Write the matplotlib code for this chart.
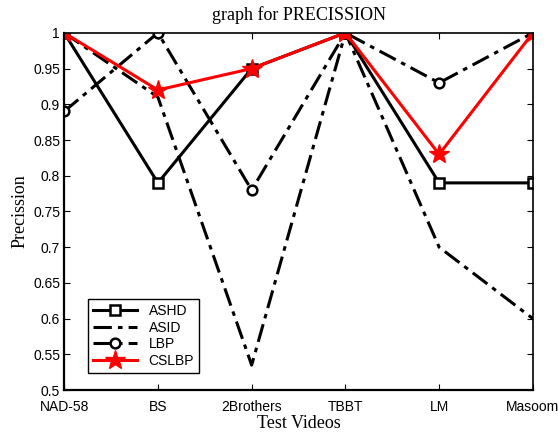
import numpy as np
import matplotlib
matplotlib.use("Agg")
import matplotlib.pyplot as plt

# ----------------------------
# Data
# ----------------------------

videos = ["NAD-58", "BS", "2Brothers", "TBBT", "LM", "Masoom"]
ashd = [1.0, 0.79, 0.95, 1.0, 0.79, 0.79]
asid = [1.0, 0.91, 0.535, 1.0, 0.70, 0.60]
lbp = [0.89, 1.0, 0.78, 1.0, 0.93, 1.0]
cslbp = [1.0, 0.92, 0.95, 1.0, 0.83, 1.0]

yticks = np.round(np.arange(0.5, 1.0001, 0.05), 2)

# ----------------------------
# Plot
# ----------------------------

fig = plt.figure(figsize=(5.58, 4.32), dpi=100)
ax = fig.add_axes([0.115, 0.097, 0.84, 0.827])

x = np.arange(len(videos))
dd = (6, 2, 1.5, 2)

ax.plot(x, ashd, color="black", lw=2.2, marker="s", ms=7,
        mfc="white", mec="black", mew=1.8, label="ASHD")
ax.plot(x, asid, color="black", lw=2.2, dashes=dd, label="ASID")
ax.plot(x, lbp, color="black", lw=2.2, dashes=dd, marker="o", ms=7,
        mfc="white", mec="black", mew=1.8, label="LBP")
ax.plot(x, cslbp, color="red", lw=2.2, marker="*", ms=15,
        mfc="red", mec="red", label="CSLBP")

ax.set_xlim(0, len(videos) - 1)
ax.set_ylim(0.5, 1.0)
ax.set_xticks(x)
ax.set_xticklabels(videos, family="Liberation Sans", fontsize=10)
ax.set_yticks(yticks)
ax.set_yticklabels(["%g" % v for v in yticks], family="Liberation Sans", fontsize=10)
ax.tick_params(direction="in", length=4, width=0.8, top=True, right=True)
ax.tick_params(axis="x", pad=7)
ax.tick_params(axis="y", pad=3)

for s in ax.spines.values():
    s.set_linewidth(1.2)
ax.spines["bottom"].set_linewidth(1.6)
ax.spines["left"].set_linewidth(1.6)

ax.set_title("graph for PRECISSION", family="Liberation Serif", fontsize=13, pad=9)
ax.set_xlabel("Test Videos", family="Liberation Serif", fontsize=13, labelpad=1)
ax.set_ylabel("Precission", family="Liberation Serif", fontsize=13, labelpad=3)

leg = ax.legend(loc="lower left", bbox_to_anchor=(0.051, 0.048), borderaxespad=0,
                prop={"family": "Liberation Sans", "size": 10},
                fancybox=False, edgecolor="black", framealpha=1,
                handlelength=3.2, borderpad=0.35, labelspacing=0.2)
leg.get_frame().set_linewidth(1.0)

fig.savefig("out.png", dpi=100)
